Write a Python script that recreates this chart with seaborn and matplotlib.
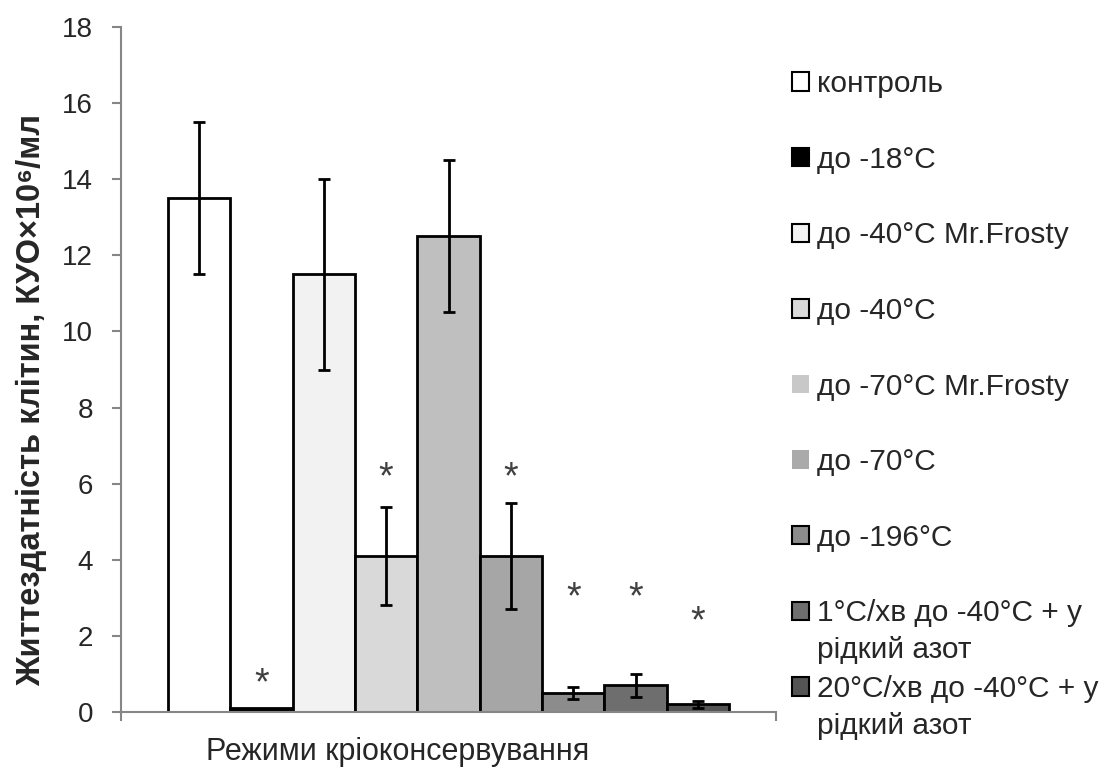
import numpy as np
import pandas as pd
import matplotlib
matplotlib.use("Agg")
import matplotlib.pyplot as plt
from matplotlib.patches import Patch
import seaborn as sns

category = "Режими кріоконсервування"
regimes = [
    "контроль",
    "до -18°C",
    "до -40°C Mr.Frosty",
    "до -40°C",
    "до -70°C Mr.Frosty",
    "до -70°C",
    "до -196°C",
    "1°C/хв до -40°C + у\nрідкий азот",
    "20°C/хв до -40°C + у\nрідкий азот",
]
means = [13.5, 0.1, 11.5, 4.1, 12.5, 4.1, 0.5, 0.7, 0.2]
errors = [2.0, 0.0, 2.5, 1.3, 2.0, 1.4, 0.15, 0.3, 0.1]
star_y = [None, 0.72, None, 6.15, None, 6.15, 3.0, 3.0, 2.35]
bar_colors = ["#ffffff", "#000000", "#f2f2f2", "#d9d9d9", "#bfbfbf",
              "#a6a6a6", "#8c8c8c", "#6e6e6e", "#545454"]
legend_colors = ["#ffffff", "#000000", "#f2f2f2", "#d9d9d9", "#c8c8c8",
                 "#aaaaaa", "#8c8c8c", "#6e6e6e", "#545454"]
legend_edges = ["black", "black", "black", "black", "none",
                "none", "black", "black", "black"]
y_ticks = [0, 2, 4, 6, 8, 10, 12, 14, 16, 18]
y_label = "Життездатність клітин, КУО×10⁶/мл"

sns.set_style("white")
plt.rcParams["font.family"] = ["Liberation Sans", "DejaVu Sans"]

W, H = 1115, 776
fig = plt.figure(figsize=(W / 100, H / 100), dpi=100)
ax = fig.add_axes([121 / W, 1 - 712 / H, 655 / W, 685 / H])

df = pd.DataFrame({"cat": [category] * len(regimes), "regime": regimes, "value": means})
sns.barplot(data=df, x="cat", y="value", hue="regime", hue_order=regimes,
            palette=bar_colors, width=0.857, edgecolor="black", linewidth=2,
            errorbar=None, legend=False, ax=ax, saturation=1)

patches = [c[0] for c in ax.containers]
for i, p in enumerate(patches):
    xc = p.get_x() + p.get_width() / 2
    if errors[i] > 0:
        ax.errorbar(xc, means[i], yerr=errors[i], fmt="none", ecolor="black",
                    elinewidth=2, capsize=4.3, capthick=2, zorder=5)
    if star_y[i] is not None:
        ax.text(xc, star_y[i], "*", ha="center", va="center", fontsize=27,
                color="#404040")

ax.set_xlim(-0.5, 0.5)
ax.set_ylim(0, 18)
ax.set_yticks(y_ticks)
ax.set_yticklabels([str(t) for t in y_ticks], fontsize=20)
ax.set_xticks([-0.5, 0.5])
ax.set_xticklabels(["", ""])
ax.tick_params(axis="both", direction="out", length=6.5, width=1.5, color="#868686",
               left=True, bottom=True, pad=13.5)
for s in ["top", "right"]:
    ax.spines[s].set_visible(False)
for s in ["left", "bottom"]:
    ax.spines[s].set_color("#868686")
    ax.spines[s].set_linewidth(1.5)

ax.set_xlabel(category, fontsize=22)
ax.xaxis.set_label_coords((398 - 121) / 655, -0.036)
ax.set_ylabel(y_label, fontsize=23.5, fontweight="bold")
ax.yaxis.set_label_coords(-0.113, 0.455)

leg_fs = 21.5
first_lines = [r.split("\n")[0] for r in regimes]
handles = [Patch(facecolor=c, edgecolor=e, linewidth=1.5)
           for c, e in zip(legend_colors, legend_edges)]
leg = fig.legend(handles, first_lines, loc="upper left",
                 bbox_to_anchor=(792 / W, 1 - 70 / H),
                 frameon=False, fontsize=leg_fs, labelspacing=1.595, handlelength=0.57,
                 handleheight=0.57, handletextpad=0.27, borderpad=0, borderaxespad=0)

# continuation lines of the two-line legend labels
fig.canvas.draw()
renderer = fig.canvas.get_renderer()
line_step = 37
for t, full in zip(leg.get_texts(), regimes):
    parts = full.split("\n")
    if len(parts) > 1:
        bb = t.get_window_extent(renderer)
        fig.text(bb.x0 / W, (bb.y0 - line_step) / H, parts[1], fontsize=leg_fs,
                 ha="left", va="bottom")

fig.savefig("out.png", dpi=100)
